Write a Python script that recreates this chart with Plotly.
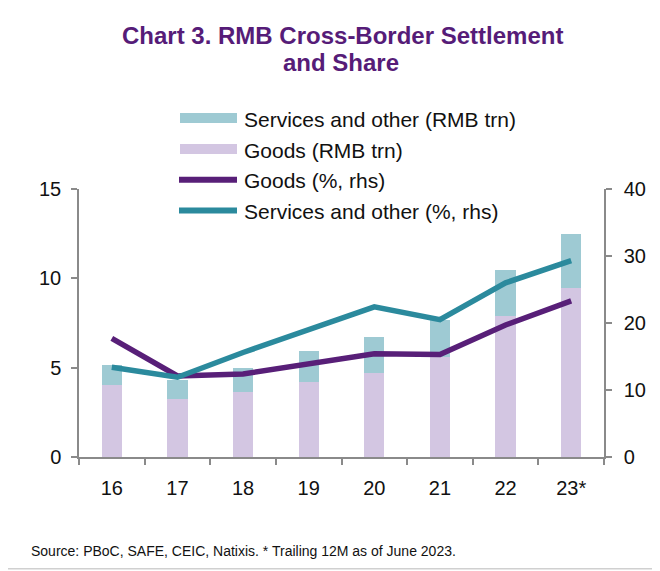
import plotly.graph_objects as go

years = ["16", "17", "18", "19", "20", "21", "22", "23*"]
goods_trn = [4.05, 3.25, 3.62, 4.18, 4.70, 5.60, 7.87, 9.46]
services_trn = [1.08, 1.04, 1.38, 1.77, 1.99, 2.08, 2.57, 3.02]
goods_pct = [17.7, 12.1, 12.4, 13.9, 15.4, 15.3, 19.7, 23.3]
services_pct = [13.4, 11.9, 15.6, 19.0, 22.4, 20.5, 26.0, 29.3]

C_SERV_BAR = "#9ecad3"
C_GOODS_BAR = "#d3c6e2"
C_GOODS_LINE = "#581f78"
C_SERV_LINE = "#2b8a9d"
C_TITLE = "#561c78"
AX = "#8a8a8a"
FONT = "Liberation Sans, Arial, sans-serif"

OFF = 8  # page body margin
W, H = 660 - OFF, 571 - OFF
L, R = 79 - OFF, 660 - 604
T, B = 189.3 - OFF, 571 - 457.3

fig = go.Figure()
fig.add_trace(go.Bar(x=years, y=goods_trn, marker=dict(color=C_GOODS_BAR, line=dict(width=0)),
                     name="Goods (RMB trn)", showlegend=False))
fig.add_trace(go.Bar(x=years, y=services_trn, marker=dict(color=C_SERV_BAR, line=dict(width=0)),
                     name="Services and other (RMB trn)", showlegend=False))
fig.add_trace(go.Scatter(x=years, y=goods_pct, yaxis="y2", mode="lines",
                         line=dict(color=C_GOODS_LINE, width=5.5), name="Goods (%, rhs)", showlegend=False))
fig.add_trace(go.Scatter(x=years, y=services_pct, yaxis="y2", mode="lines",
                         line=dict(color=C_SERV_LINE, width=5.5), name="Services and other (%, rhs)", showlegend=False))

pw = W - L - R
ph = H - T - B


def px_x(x):
    return (x - OFF - L) / pw


def px_y(y):
    return (H - B - (y - OFF)) / ph


shapes = []
annotations = []
legend_items = [
    ("bar", C_SERV_BAR, "Services and other (RMB trn)", 118.3),
    ("bar", C_GOODS_BAR, "Goods (RMB trn)", 149.3),
    ("line", C_GOODS_LINE, "Goods (%, rhs)", 180),
    ("line", C_SERV_LINE, "Services and other (%, rhs)", 210.7),
]
for kind, col, label, cy in legend_items:
    if kind == "bar":
        shapes.append(dict(type="rect", xref="paper", yref="paper",
                           x0=px_x(180), x1=px_x(237), y0=px_y(cy + 5), y1=px_y(cy - 5),
                           fillcolor=col, line=dict(width=0), layer="above"))
    else:
        shapes.append(dict(type="line", xref="paper", yref="paper",
                           x0=px_x(179), x1=px_x(237), y0=px_y(cy), y1=px_y(cy),
                           line=dict(color=col, width=6), layer="above"))
    annotations.append(dict(xref="paper", yref="paper", x=px_x(242), y=px_y(cy + 1),
                            xanchor="left", yanchor="middle", text=label, showarrow=False,
                            font=dict(family=FONT, size=21, color="#111111")))

annotations.append(dict(xref="paper", yref="paper", x=px_x(29), y=px_y(551),
                        xanchor="left", yanchor="middle",
                        text="Source: PBoC, SAFE, CEIC, Natixis. * Trailing 12M as of June 2023.",
                        showarrow=False, font=dict(family=FONT, size=14, color="#111111")))
annotations.append(dict(xref="paper", yref="paper", x=px_x(342), y=px_y(36),
                        xanchor="center", yanchor="middle",
                        text="<b>Chart 3. RMB Cross-Border Settlement</b>",
                        showarrow=False, font=dict(family=FONT, size=24, color=C_TITLE)))
annotations.append(dict(xref="paper", yref="paper", x=px_x(341), y=px_y(63),
                        xanchor="center", yanchor="middle",
                        text="<b>and Share</b>",
                        showarrow=False, font=dict(family=FONT, size=24, color=C_TITLE)))

shapes.append(dict(type="line", xref="paper", yref="paper", x0=px_x(0), x1=px_x(660),
                   y0=px_y(569), y1=px_y(569), line=dict(color="#d0d0d0", width=1.5)))

fig.update_layout(
    width=W, height=H,
    margin=dict(l=L, r=R, t=T, b=B, pad=0),
    paper_bgcolor="white", plot_bgcolor="white",
    barmode="stack", bargap=0.69,
    showlegend=False,
    font=dict(family=FONT, size=20, color="#111111"),
    xaxis=dict(type="category", showline=True, linecolor=AX, linewidth=1.5,
               ticks="outside", tickson="boundaries", tickcolor=AX, ticklen=6, tickwidth=1.5,
               showgrid=False, zeroline=False, ticklabelstandoff=12,
               tickfont=dict(size=20)),
    yaxis=dict(range=[0, 15], tickvals=[0, 5, 10, 15], showline=True, linecolor=AX, linewidth=1.5,
               ticks="outside", tickcolor=AX, ticklen=6, tickwidth=1.5, showgrid=False,
               zeroline=False, ticklabelstandoff=6, tickfont=dict(size=20)),
    yaxis2=dict(range=[0, 40], tickvals=[0, 10, 20, 30, 40], overlaying="y", side="right",
                showline=True, linecolor=AX, linewidth=1.5, ticks="outside", tickcolor=AX,
                ticklen=6, tickwidth=1.5, showgrid=False, zeroline=False, ticklabelstandoff=8,
                tickfont=dict(size=20)),
    shapes=shapes,
    annotations=annotations,
)

fig.write_html("out.html")
